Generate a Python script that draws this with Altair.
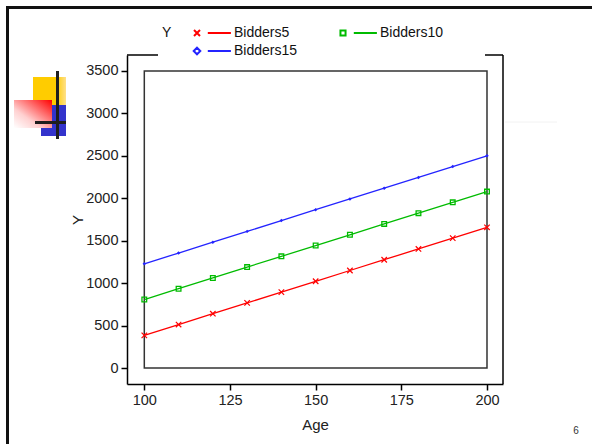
import altair as alt
import pandas as pd

# ---------------- data ----------------
ages = [100, 110, 120, 130, 140, 150, 160, 170, 180, 190, 200]
series_names = ["Bidders5", "Bidders10", "Bidders15"]
bidders5 = [385, 512, 640, 767, 894, 1022, 1149, 1276, 1403, 1531, 1658]
bidders10 = [807, 934, 1061, 1189, 1316, 1443, 1570, 1698, 1825, 1952, 2079]
bidders15 = [1228, 1355, 1483, 1610, 1737, 1865, 1992, 2119, 2246, 2374, 2501]
x_ticks = [100, 125, 150, 175, 200]
y_ticks = [0, 500, 1000, 1500, 2000, 2500, 3000, 3500]

series_values = [bidders5, bidders10, bidders15]
series_colors = ["#ff0000", "#00bb00", "#2424ff"]

rows = []
for name, vals in zip(series_names, series_values):
    for a, v in zip(ages, vals):
        rows.append({"Age": a, "Y": v, "series": name})
df = pd.DataFrame(rows)

FONT = "Liberation Sans"
W, H = 376, 329

x_enc = alt.X("Age:Q",
              scale=alt.Scale(domain=[94.95, 204.67], nice=False, zero=False),
              axis=alt.Axis(values=x_ticks, title="Age", grid=False, format="d",
                            tickSize=6, labelPadding=3, titlePadding=11))
y_enc = alt.Y("Y:Q",
              scale=alt.Scale(domain=[-188.5, 3688.5], nice=False, zero=False),
              axis=alt.Axis(values=y_ticks, title="Y", grid=False, format="d",
                            tickSize=6, labelPadding=3, titlePadding=0))

one = alt.Data(values=[{}])

# inner data box
box = alt.Chart(one).mark_rect(fill=None, stroke="#333", strokeWidth=1.5).encode(
    x=alt.datum(x_ticks[0], type="quantitative"),
    x2=alt.datum(x_ticks[-1]),
    y=alt.datum(y_ticks[0], type="quantitative"),
    y2=alt.datum(y_ticks[-1]),
)

layers = [box]

# lines
for name, col in zip(series_names, series_colors):
    layers.append(
        alt.Chart(df).transform_filter(alt.datum.series == name)
        .mark_line(color=col, strokeWidth=1.3)
        .encode(x=x_enc, y=y_enc)
    )

# point markers
marker_specs = [
    dict(shape="M-1,-1L1,1M-1,1L1,-1", size=30, filled=False, strokeWidth=1.2),
    dict(shape="square", size=22, filled=False, strokeWidth=1.3),
    dict(shape="diamond", size=12, filled=True, strokeWidth=0.5),
]
for name, col, spec in zip(series_names, series_colors, marker_specs):
    layers.append(
        alt.Chart(df).transform_filter(alt.datum.series == name)
        .mark_point(color=col, opacity=1, **spec)
        .encode(x=x_enc, y=y_enc)
    )

# legend layer (no drawn points, only the legend)
legend_paths = [
    "M-1,-1L1,1M-1,1L1,-1M3.6,0L11.3,0",
    "M-0.85,-0.85H0.85V0.85H-0.85ZM3.6,0L11.3,0",
    "M0,-1.1L1.1,0L0,1.1L-1.1,0ZM3.6,0L11.3,0",
]
legend_spec = alt.Legend(
    orient="none", legendX=35, legendY=-29, columns=2, direction="horizontal",
    title="Y", titleOrient="left", titleAnchor="start", titleBaseline="top",
    titleFontSize=14, titleFontWeight="normal",
    titleColor="#111", titleFont=FONT, titlePadding=18,
    labelFontSize=14, labelFont=FONT, labelColor="#111", labelOffset=30,
    symbolSize=36, symbolStrokeWidth=2, columnPadding=38, rowPadding=3,
    padding=0, symbolOpacity=1,
)
legend_layer = (
    alt.Chart(df).transform_filter("false")
    .mark_point(filled=False, size=36, strokeWidth=2)
    .encode(
        x=x_enc, y=y_enc,
        color=alt.Color("series:N",
                        scale=alt.Scale(domain=series_names, range=series_colors),
                        legend=legend_spec),
        shape=alt.Shape("series:N",
                        scale=alt.Scale(domain=series_names, range=legend_paths),
                        legend=legend_spec),
    )
)
layers.append(legend_layer)

# frame pieces (right side and top segments)
def prule(x1, y1, x2, y2, color="black", width=1.5):
    return alt.Chart(one).mark_rule(color=color, strokeWidth=width).encode(
        x=alt.value(x1), y=alt.value(y1), x2=alt.value(x2), y2=alt.value(y2))

layers += [
    prule(W, 0, W, H),
    prule(0, 0, 31, 0),
    prule(358, 0, W, 0),
    prule(378, 67, 430, 67, color="#f2f2f2", width=1),
]

# slide decoration: border, logo, page number
def prect(x1, y1, x2, y2, **kw):
    return alt.Chart(one).mark_rect(**kw).encode(
        x=alt.value(x1), y=alt.value(y1), x2=alt.value(x2), y2=alt.value(y2))

ox, oy = 127, 55
layers += [
    prect(7.5 - ox, 7.5 - oy, 640 - ox, 480 - oy, fill=None, stroke="#111", strokeWidth=3),
    prect(33 - ox, 77 - oy, 56 - ox, 106 - oy, fill="#ffcc00"),
    prect(56 - ox, 77 - oy, 66 - ox, 106 - oy,
          fill={"gradient": "linear", "x1": 0, "y1": 0, "x2": 1, "y2": 0,
                "stops": [{"offset": 0, "color": "#ffcc00"},
                          {"offset": 1, "color": "#ffe08a"}]}),
    prect(41 - ox, 105 - oy, 66 - ox, 136 - oy, fill="#3333cc"),
    prect(14 - ox, 100 - oy, 52 - ox, 128 - oy,
          fill={"gradient": "linear", "x1": 0, "y1": 1, "x2": 1, "y2": 0,
                "stops": [{"offset": 0, "color": "#ffffff"},
                          {"offset": 0.35, "color": "#ffd0d0"},
                          {"offset": 1, "color": "#ff0000"}]}),
    prect(56 - ox, 71 - oy, 59 - ox, 139 - oy, fill="#1e1e1e"),
    prect(35 - ox, 121 - oy, 66 - ox, 124 - oy, fill="#1e1e1e"),
    alt.Chart(one).mark_text(text="6", fontSize=10, font=FONT, color="#333",
                             align="center", baseline="middle").encode(
        x=alt.value(576 - ox), y=alt.value(431 - oy)),
]

chart = alt.layer(*layers).properties(
    width=W, height=H,
    padding={"left": 127, "top": 55, "right": 592 - 127 - W, "bottom": 444 - 55 - H},
    autosize=alt.AutoSizeParams(type="none"),
    background="white",
).configure_view(stroke=None).configure_axis(
    domainColor="black", domainWidth=1.5, tickColor="black", tickWidth=1.5,
    labelFont=FONT, labelFontSize=14.5, labelColor="#222",
    titleFont=FONT, titleFontSize=15, titleFontWeight="normal", titleColor="#222",
)

chart.save("out.html", embed_options={"renderer": "svg", "actions": False})
